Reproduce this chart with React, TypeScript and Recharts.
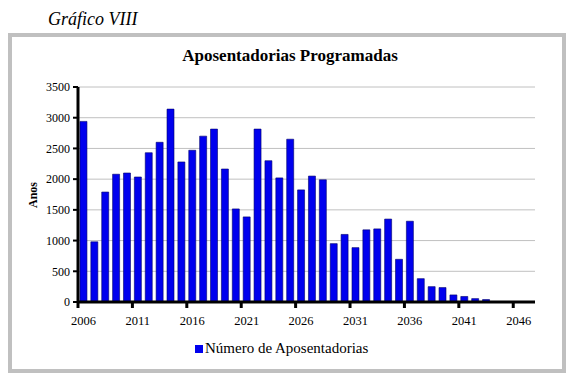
import { BarChart, Bar, XAxis, YAxis, CartesianGrid } from 'recharts';

// Anos (categorias) e número de aposentadorias programadas
const YEARS = [
  '2006', '2007', '2008', '2009', '2010', '2011', '2012', '2013', '2014', '2015',
  '2016', '2017', '2018', '2019', '2020', '2021', '2022', '2023', '2024', '2025',
  '2026', '2027', '2028', '2029', '2030', '2031', '2032', '2033', '2034', '2035',
  '2036', '2037', '2038', '2039', '2040', '2041', '2042', '2043', '2044', '2045',
  '2046', '2047',
];
const APOSENTADORIAS = [
  2940, 980, 1790, 2080, 2100, 2035, 2430, 2600, 3140, 2280,
  2470, 2700, 2815, 2165, 1515, 1385, 2815, 2300, 2020, 2650,
  1825, 2050, 1990, 950, 1100, 885, 1175, 1190, 1350, 695,
  1315, 380, 250, 235, 115, 90, 55, 40, 0, 0,
  0, 0,
];
const Y_TICKS = [0, 500, 1000, 1500, 2000, 2500, 3000, 3500];

const W = 584;
const H = 373;
const PLOT = { left: 78, right: 535, top: 87, bottom: 302 };
const Y_AXIS_W = 50;
const X_AXIS_H = 30;
const SERIF = "'Liberation Serif', 'Times New Roman', serif";
const BLUE = '#0000ee';
const FRAME = '#c0c0c0';

const data = YEARS.map((ano, i) => ({ ano, valor: APOSENTADORIAS[i] }));

// Excel-style category axis: tick marks sit between categories, labels in the middle
function YearTick(props: any) {
  const { x, payload } = props;
  const band = (PLOT.right - PLOT.left) / YEARS.length;
  const edge = x - band / 2;
  return (
    <g>
      <line x1={edge} x2={edge} y1={PLOT.bottom} y2={PLOT.bottom + 6} stroke="#000" strokeWidth={3} />
      <text x={x} y={PLOT.bottom + 23} textAnchor="middle" fontFamily={SERIF} fontSize={12.5} fill="#000">
        {payload.value}
      </text>
    </g>
  );
}

export default function App() {
  return (
    <div style={{ position: 'absolute', left: 0, top: 0, width: W, height: H, background: '#fff', fontFamily: SERIF }}>
      <div style={{ position: 'absolute', left: 48, top: 9, fontSize: 18, fontStyle: 'italic', color: '#000' }}>
        Gráfico VIII
      </div>
      <div
        style={{
          position: 'absolute', left: 8, top: 33, width: 558, height: 340,
          border: `4px solid ${FRAME}`, boxSizing: 'border-box',
        }}
      />
      <div
        style={{
          position: 'absolute', left: 0, top: 46, width: 580, textAlign: 'center',
          fontSize: 17, fontWeight: 'bold', color: '#000',
        }}
      >
        Aposentadorias Programadas
      </div>
      <div
        style={{
          position: 'absolute', left: 33, top: (PLOT.top + PLOT.bottom) / 2,
          transform: 'translate(-50%, -50%) rotate(-90deg)',
          fontSize: 12, fontWeight: 'bold', color: '#000', whiteSpace: 'nowrap',
        }}
      >
        Anos
      </div>

      <div style={{ position: 'absolute', left: 0, top: 0 }}>
        <BarChart
          width={W}
          height={H}
          data={data}
          barCategoryGap="18%"
          margin={{
            top: PLOT.top,
            right: W - PLOT.right,
            left: PLOT.left - Y_AXIS_W,
            bottom: H - PLOT.bottom - X_AXIS_H,
          }}
        >
          <CartesianGrid vertical={false} stroke={FRAME} yAxisId="left" />
          <XAxis
            dataKey="ano"
            height={X_AXIS_H}
            interval={4}
            tick={<YearTick />}
            tickLine={false}
            axisLine={{ stroke: '#000', strokeWidth: 3 }}
          />
          <YAxis
            yAxisId="left"
            width={Y_AXIS_W}
            domain={[0, 3500]}
            ticks={Y_TICKS}
            interval={0}
            tick={{ fontSize: 12, fill: '#000', fontFamily: SERIF }}
            tickSize={5}
            tickMargin={3}
            tickLine={{ stroke: '#000', strokeWidth: 2 }}
            axisLine={{ stroke: '#000', strokeWidth: 3 }}
          />
          <YAxis
            yAxisId="frame"
            orientation="right"
            width={0}
            domain={[0, 1]}
            tick={false}
            tickLine={false}
            axisLine={{ stroke: FRAME }}
          />
          <Bar
            yAxisId="left"
            dataKey="valor"
            fill={BLUE}
            stroke="#00006a"
            strokeWidth={0.6}
            isAnimationActive={false}
          />
        </BarChart>
      </div>

      <div style={{ position: 'absolute', left: 195, top: 340, display: 'flex', alignItems: 'center', fontSize: 15, color: '#000' }}>
        <span style={{ display: 'inline-block', width: 8, height: 8, background: BLUE, marginRight: 2 }} />
        <span>Número de Aposentadorias</span>
      </div>
    </div>
  );
}
